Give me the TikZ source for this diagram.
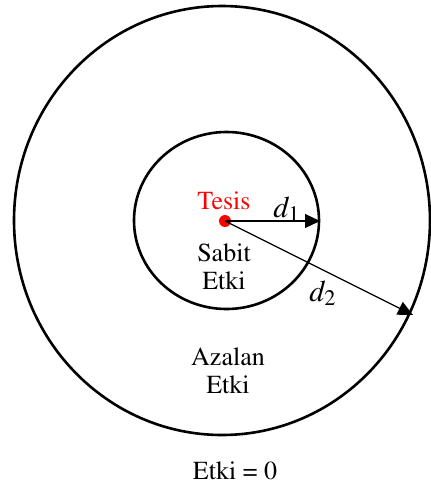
\documentclass[tikz,border=0pt]{standalone}
\usepackage[T1]{fontenc}
\usepackage{mathptmx}
\usetikzlibrary{arrows.meta}

\begin{document}
\begin{tikzpicture}[x=0.5pt,y=-0.5pt]
  \tikzstyle{ring}=[draw,line width=1.3pt]
  \tikzstyle{lbl}=[align=center,font=\fontsize{13}{14}\selectfont,inner sep=0pt]
  \tikzstyle{dlbl}=[inner sep=0pt,font=\fontsize{15}{16}\selectfont]
  \tikzstyle{dist}=[line width=0.6pt,-{Triangle[length=7.5pt,width=7pt]}]
  \useasboundingbox (0,0) rectangle (430,493);
  \draw[ring] (222,220.5) ellipse [x radius=104pt,y radius=107.25pt];
  \draw[ring] (226.5,220.5) ellipse [x radius=46.25pt,y radius=44.25pt];
  \node[circle,fill=red,inner sep=0pt,minimum size=6pt] (tesis) at (225,221) {};
  \coordinate (d1end) at (320,221);
  \coordinate (d2end) at (413,315);
  \draw[dist] (tesis.center) -- (d1end);
  \draw[dist] (tesis.center) -- (d2end);
  \node[lbl,text=red] (tesislbl) at (224,201) {Tesis};
  \node[dlbl] (d1) at (287,209) {$d_1$};
  \node[dlbl] (d2) at (323,293) {$d_2$};
  \node[lbl] (sabit) at (224,267) {Sabit\\Etki};
  \node[lbl] (azalan) at (228,371) {Azalan\\Etki};
  \node[lbl] (sifir) at (235,471) {Etki = 0};
\end{tikzpicture}
\end{document}
